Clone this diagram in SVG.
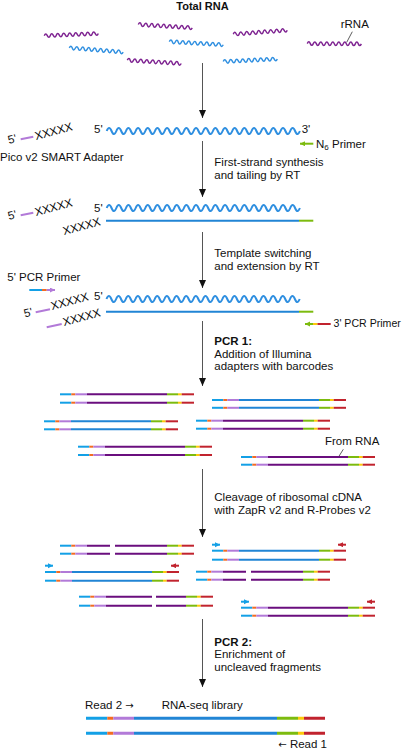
<svg xmlns="http://www.w3.org/2000/svg" xmlns:xlink="http://www.w3.org/1999/xlink" width="405" height="750" viewBox="0 0 405 750">
<style>
.t{font-family:"Liberation Sans",Arial,"DejaVu Sans",sans-serif;font-size:11.5px;fill:#111}
.b{font-weight:bold}
.ar{font-family:"DejaVu Sans",sans-serif;font-size:10px}
.s{fill:none;stroke-width:2;stroke-linecap:butt}
.lb{stroke:#13a0e6}.or{stroke:#f36c21}.lv{stroke:#b27ad8}.pu{stroke:#6a0e7e}.bl{stroke:#2185d5}
.gr{stroke:#7cbb0e}.ye{stroke:#fdc90b}.rd{stroke:#c1232e}
.wp{stroke:#7e2391}.wb{stroke:#2f8fe0}
.ad{fill:none;stroke:#b27ad8;stroke-width:2}
.conn{fill:none;stroke:#555;stroke-width:1}
.lead{fill:none;stroke:#333;stroke-width:0.8}
.lib{fill:none;stroke-width:3}
</style>
<defs>
<marker id="ah" markerUnits="userSpaceOnUse" markerWidth="8" markerHeight="8" refX="8" refY="3.5" orient="auto"><path d="M0,0L8,3.5L0,7z" fill="#111"/></marker>
<marker id="mg" markerUnits="userSpaceOnUse" markerWidth="6" markerHeight="6" refX="5" refY="2.5" orient="auto"><path d="M0,0L5,2.5L0,5z" fill="#7cbb0e"/></marker>
<marker id="ml" markerUnits="userSpaceOnUse" markerWidth="6" markerHeight="6" refX="5" refY="2.5" orient="auto"><path d="M0,0L5,2.5L0,5z" fill="#b27ad8"/></marker>
<marker id="mb" markerUnits="userSpaceOnUse" markerWidth="6" markerHeight="6" refX="5" refY="2.5" orient="auto"><path d="M0,0L5,2.5L0,5z" fill="#13a0e6"/></marker>
<marker id="mr" markerUnits="userSpaceOnUse" markerWidth="6" markerHeight="6" refX="5" refY="2.5" orient="auto"><path d="M0,0L5,2.5L0,5z" fill="#c1232e"/></marker>
<path id="sw" fill="none" stroke-width="1.5" d="M0,0q1.5,-3.5 3,0t3,0t3,0t3,0t3,0t3,0t3,0t3,0t3,0t3,0t3,0t3,0t3,0t3,0t3,0t3,0t3,0t3,0"/>
<path id="bw" fill="none" stroke-width="2" d="M0,0q2.4,-6 4.83,0t4.83,0t4.83,0t4.83,0t4.83,0t4.83,0t4.83,0t4.83,0t4.83,0t4.83,0t4.83,0t4.83,0t4.83,0t4.83,0t4.83,0t4.83,0t4.83,0t4.83,0t4.83,0t4.83,0t4.83,0t4.83,0t4.83,0t4.83,0t4.83,0t4.83,0t4.83,0t4.83,0t4.83,0t4.83,0t4.83,0t4.83,0t4.83,0t4.83,0t4.83,0t4.83,0t4.83,0t4.83,0t4.83,0t4.83,0"/>
<g id="ends" class="s">
<path class="lb" d="M0,0h11.3"/><path class="or" d="M11.3,0h4"/><path class="lv" d="M15.3,0h11.7"/>
<path class="gr" d="M107,0h11"/><path class="ye" d="M118,0h3.7"/><path class="rd" d="M121.7,0h12.3"/>
</g>
<g id="sP"><use xlink:href="#ends"/><path class="s pu" d="M27,0h80"/></g>
<g id="sB"><use xlink:href="#ends"/><path class="s bl" d="M27,0h80"/></g>
<g id="sP50"><use xlink:href="#ends"/><path class="s pu" d="M27,0h23M55,0h52"/></g>
<g id="sP73"><use xlink:href="#ends"/><path class="s pu" d="M27,0h46M77,0h30"/></g>
<g id="fa"><path class="s lb" d="M0,0h8" marker-end="url(#mb)"/><path class="s rd" d="M134,0h-8" marker-end="url(#mr)"/></g>
</defs>
<rect width="405" height="750" fill="#fff"/>

<g id="connectors">
<path class="conn" d="M202.5,63V118" marker-end="url(#ah)"/>
<path class="conn" d="M202.5,141V197" marker-end="url(#ah)"/>
<path class="conn" d="M202.5,232V288" marker-end="url(#ah)"/>
<path class="conn" d="M202.5,321V386" marker-end="url(#ah)"/>
<path class="conn" d="M202.5,469V537" marker-end="url(#ah)"/>
<path class="conn" d="M202.5,619V687" marker-end="url(#ah)"/>
<path class="lead" d="M352.3,31.7L346.7,42.3"/>
<path class="lead" d="M343.3,449.3L338.7,456.7"/>
</g>

<g id="total-rna">
<text class="t b" x="202.5" y="9.6" text-anchor="middle" style="font-size:11px">Total RNA</text>
<use xlink:href="#sw" class="wp" transform="translate(44.3,35.7) rotate(-2.3)"/>
<use xlink:href="#sw" class="wp" transform="translate(138.3,24.5) rotate(3.5)"/>
<use xlink:href="#sw" class="wp" transform="translate(233.3,34.2) rotate(-4.3)"/>
<use xlink:href="#sw" class="wp" transform="translate(307.3,43.6) rotate(0.3)"/>
<use xlink:href="#sw" class="wp" transform="translate(127.3,60.2) rotate(3.5)"/>
<use xlink:href="#sw" class="wb" transform="translate(69.3,47.8) rotate(4.5)"/>
<use xlink:href="#sw" class="wb" transform="translate(169.3,41.7) rotate(3.2)"/>
<use xlink:href="#sw" class="wb" transform="translate(223.3,61.6) rotate(-2.8)"/>
<text class="t" x="340.7" y="28">rRNA</text>
</g>

<g id="rna-n6">
<text class="t" x="94" y="133.3">5'</text>
<use xlink:href="#bw" class="wb" transform="translate(106.7,131)"/>
<text class="t" x="301.7" y="133.3">3'</text>
<path class="s gr" d="M313.3,143.7H300" marker-end="url(#mg)"/>
<text class="t" x="316" y="147.5">N<tspan style="font-size:8px" dy="2">6</tspan><tspan dy="-2"> Primer</tspan></text>
</g>

<g id="smart-adapter">
<text class="t" x="9" y="144" transform="rotate(-15 9 144)">5'</text>
<path class="ad" d="M20.7,139.3L33.3,136.7"/>
<text class="t" x="36" y="140" transform="rotate(-15 36 140)">XXXXX</text>
<text class="t" x="0" y="161">Pico v2 SMART Adapter</text>
</g>

<g id="first-strand">
<text class="t" x="9" y="220" transform="rotate(-15 9 220)">5'</text>
<path class="ad" d="M20.7,215.3L33.3,212.7"/>
<text class="t" x="36" y="216" transform="rotate(-15 36 216)">XXXXX</text>
<text class="t" x="94" y="211.7">5'</text>
<use xlink:href="#bw" class="wb" transform="translate(106.7,208)"/>
<text class="t" x="64" y="235" transform="rotate(-15 64 235)">XXXXX</text>
<path class="s bl" d="M106,220.7H299"/><path class="s gr" d="M299,220.7H313.3"/>
<text class="t" x="214.3" y="165.5">First-strand synthesis</text>
<text class="t" x="214.3" y="178.8">and tailing by RT</text>
</g>

<g id="template-switch">
<text class="t" x="214.3" y="257">Template switching</text>
<text class="t" x="214.3" y="270.3">and extension by RT</text>
<text class="t" x="7.3" y="280.7">5' PCR Primer</text>
<path class="s lb" d="M29.3,290H42"/><path class="s or" d="M42,290H46.7"/><path class="s lv" d="M46.7,290H55" marker-end="url(#ml)"/>
<text class="t" x="25" y="317.5" transform="rotate(-15 25 317.5)">5'</text>
<path class="ad" d="M35.7,312.3L50,309.3"/>
<text class="t" x="52" y="310" transform="rotate(-15 52 310)">XXXXX</text>
<text class="t" x="94" y="299.5">5'</text>
<use xlink:href="#bw" class="wb" transform="translate(106.5,299)"/>
<path class="s bl" d="M106,311.7H299"/><path class="s gr" d="M299,311.7H313.3"/>
<path class="ad" d="M46.7,327.3L61.7,324"/>
<text class="t" x="64" y="326" transform="rotate(-15 64 326)">XXXXX</text>
<path class="s rd" d="M330.7,324H317.3"/><path class="s ye" d="M317.3,324H313"/><path class="s gr" d="M313,324H305" marker-end="url(#mg)"/>
<text class="t" x="333.5" y="327" style="font-size:10.6px">3' PCR Primer</text>
</g>

<g id="pcr1">
<text class="t b" x="214.3" y="345">PCR 1:</text>
<text class="t" x="214.3" y="357.7">Addition of Illumina</text>
<text class="t" x="214.3" y="370.3">adapters with barcodes</text>
<use xlink:href="#sP" x="60" y="394.3"/><use xlink:href="#sP" x="60" y="402.7"/>
<use xlink:href="#sB" x="212" y="400"/><use xlink:href="#sB" x="212" y="407.8"/>
<use xlink:href="#sB" x="44" y="421.3"/><use xlink:href="#sB" x="44" y="429.3"/>
<use xlink:href="#sP" x="196" y="420.7"/><use xlink:href="#sP" x="196" y="428.7"/>
<use xlink:href="#sP" x="78" y="446.7"/><use xlink:href="#sP" x="78" y="455"/>
<use xlink:href="#sP" x="241" y="457"/><use xlink:href="#sP" x="241" y="464.7"/>
<text class="t" x="325" y="445">From RNA</text>
</g>

<g id="cleavage">
<text class="t" x="214.3" y="501">Cleavage of ribosomal cDNA</text>
<text class="t" x="214.3" y="514.3">with ZapR v2 and R-Probes v2</text>
<use xlink:href="#sP50" x="60" y="545.7"/><use xlink:href="#sP50" x="60" y="553.7"/>
<use xlink:href="#fa" x="212" y="544.7"/>
<use xlink:href="#sB" x="212" y="550.7"/><use xlink:href="#sB" x="212" y="559.7"/>
<use xlink:href="#fa" x="45" y="565.7"/>
<use xlink:href="#sB" x="45" y="572"/><use xlink:href="#sB" x="45" y="580.7"/>
<use xlink:href="#sP50" x="196" y="571.7"/><use xlink:href="#sP50" x="196" y="579.7"/>
<use xlink:href="#sP73" x="79" y="596.7"/><use xlink:href="#sP73" x="79" y="605.7"/>
<use xlink:href="#fa" x="241" y="601.7"/>
<use xlink:href="#sP" x="241" y="607.7"/><use xlink:href="#sP" x="241" y="615.7"/>
</g>

<g id="pcr2">
<text class="t b" x="214.3" y="645.7">PCR 2:</text>
<text class="t" x="214.3" y="658">Enrichment of</text>
<text class="t" x="214.3" y="670.5">uncleaved fragments</text>
</g>

<g id="library">
<text class="t" x="85" y="709">Read 2 <tspan class="ar">→</tspan></text>
<text class="t" x="161.7" y="708.5">RNA-seq library</text>
<g class="lib">
<path class="lb" d="M86,718.3H107.3M86,733.3H107.3"/>
<path class="or" d="M107.3,718.3H113.3M107.3,733.3H113.3"/>
<path class="lv" d="M113.3,718.3H134M113.3,733.3H134"/>
<path class="bl" d="M134,718.3H277M134,733.3H277"/>
<path class="gr" d="M277,718.3H298M277,733.3H298"/>
<path class="ye" d="M298,718.3H304M298,733.3H304"/>
<path class="rd" d="M304,718.3H325M304,733.3H325"/>
</g>
<text class="t" x="278.3" y="748"><tspan class="ar">←</tspan> Read 1</text>
</g>
</svg>
